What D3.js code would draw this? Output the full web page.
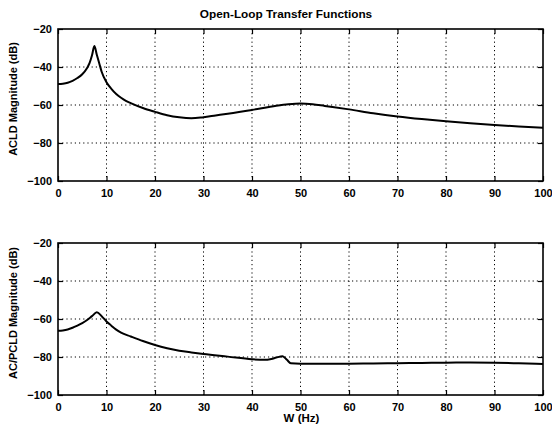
<!DOCTYPE html>
<html><head><meta charset="utf-8">
<script src="https://cdn.jsdelivr.net/npm/d3@7"></script>
<style>
html,body{margin:0;padding:0;background:#fff;}
svg{display:block;}
text{font-family:"Liberation Sans",Arial,sans-serif;fill:#000;}
</style></head>
<body>
<svg id="c" width="552" height="431"></svg>
<script>
const title = "Open-Loop Transfer Functions";
const xLabel = "W (Hz)";
const yLabelTop = "ACLD Magnitude (dB)";
const yLabelBottom = "AC/PCLD Magnitude (dB)";
const xTicks = [0,10,20,30,40,50,60,70,80,90,100];
const yTicks = [-20,-40,-60,-80,-100];

const freqTop = [0,1,2,3,4,5,6,6.5,7,7.5,8,8.5,9,10,11,12,13,14,15,17.5,20,22.5,25,27.5,30,32.5,35,40,45,47.5,50,52.5,55,60,65,70,75,80,85,90,95,100];
const acld    = [-49,-48.8,-48.3,-47.3,-45.8,-43.8,-40.5,-38,-34,-29,-33.5,-38,-42.5,-48,-51.5,-54.2,-56.2,-57.8,-59,-61.6,-63.6,-65.4,-66.5,-67,-66.4,-65.5,-64.6,-62.6,-60.4,-59.6,-59.2,-59.6,-60.5,-62.3,-64.3,-66,-67.4,-68.6,-69.6,-70.5,-71.3,-72];

const freqBottom = [0,1,2,3,4,5,6,7,8,9,10,11,12,13,15,17.5,20,22.5,25,27.5,30,35,40,42.5,44,45,46.3,47.2,48,50,55,60,65,70,75,80,85,90,95,100];
const acpcld     = [-66.2,-66,-65.5,-64.6,-63.5,-62.2,-60.5,-58.5,-56.5,-58.5,-61.3,-63.5,-65.6,-67.2,-69.2,-71.6,-73.7,-75.4,-76.7,-77.6,-78.4,-79.8,-81.2,-81.5,-81,-80.3,-79.6,-81.5,-83.3,-83.5,-83.5,-83.5,-83.4,-83.3,-83.1,-83,-82.9,-83,-83.3,-83.7];

const svg = d3.select("#c");
const x = d3.scaleLinear().domain([0,100]).range([58,543]);

function panel(top, bottom, xs, ys, ylab, showXLabel) {
  const y = d3.scaleLinear().domain([-100,-20]).range([bottom, top]);
  const g = svg.append("g");
  g.selectAll(".vg").data(xTicks.slice(1,-1)).enter().append("line")
    .attr("x1",d=>x(d)).attr("x2",d=>x(d)).attr("y1",top).attr("y2",bottom)
    .attr("stroke","#000").attr("stroke-width",1).attr("stroke-dasharray","1.2,3");
  g.selectAll(".hg").data(yTicks.slice(1,-1)).enter().append("line")
    .attr("y1",d=>y(d)).attr("y2",d=>y(d)).attr("x1",x(0)).attr("x2",x(100))
    .attr("stroke","#000").attr("stroke-width",1).attr("stroke-dasharray","1.2,3");
  const ax = d3.axisBottom(x).tickValues(xTicks).tickSize(-5).tickPadding(8).tickFormat(d3.format("d"));
  const axT = d3.axisTop(x).tickValues(xTicks).tickSize(-5).tickFormat("");
  const ay = d3.axisLeft(y).tickValues(yTicks).tickSize(-5).tickPadding(6).tickFormat(d3.format("d"));
  const ayR = d3.axisRight(y).tickValues(yTicks).tickSize(-5).tickFormat("");
  function style(sel){
    sel.select(".domain").remove();
    sel.selectAll(".tick line").attr("stroke","#000").attr("stroke-width",1.2);
    sel.selectAll(".tick text").attr("font-size",11).attr("font-weight","bold")
      .attr("font-family","'Liberation Sans',Arial,sans-serif").attr("fill","#000");
  }
  g.append("g").attr("transform",`translate(0,${bottom})`).call(ax).call(style);
  g.append("g").attr("transform",`translate(0,${top})`).call(axT).call(style);
  g.append("g").attr("transform",`translate(${x(0)},0)`).call(ay).call(style);
  g.append("g").attr("transform",`translate(${x(100)},0)`).call(ayR).call(style);
  g.append("rect").attr("x",x(0)).attr("y",top).attr("width",x(100)-x(0)).attr("height",bottom-top)
    .attr("fill","none").attr("stroke","#000").attr("stroke-width",1.6);
  const data = xs.map((f,i)=>[f,ys[i]]);
  g.append("path").datum(data)
    .attr("d", d3.line().x(d=>x(d[0])).y(d=>y(d[1])).curve(d3.curveMonotoneX))
    .attr("fill","none").attr("stroke","#000").attr("stroke-width",2);
  g.append("text").attr("transform",`translate(17,${(top+bottom)/2 - 6}) rotate(-90)`)
    .attr("text-anchor","middle").attr("font-size",11).attr("font-weight","bold").text(ylab);
  if (showXLabel) {
    g.append("text").attr("x",(x(0)+x(100))/2+1).attr("y",422).attr("text-anchor","middle")
      .attr("font-size",11.5).attr("font-weight","bold").text(xLabel);
  }
}

panel(29, 181, freqTop, acld, yLabelTop, false);
panel(243, 395, freqBottom, acpcld, yLabelBottom, true);

svg.append("text").attr("x",286).attr("y",18).attr("text-anchor","middle")
  .attr("font-size",11.8).attr("font-weight","bold").text(title);
</script>
</body></html>
